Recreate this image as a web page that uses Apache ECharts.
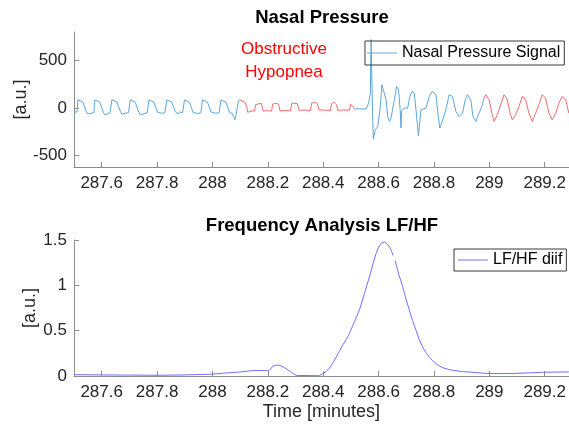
<!DOCTYPE html>
<html>
<head>
<meta charset="utf-8">
<script src="https://cdn.jsdelivr.net/npm/echarts@6/dist/echarts.min.js"></script>
<style>
  html, body { margin: 0; padding: 0; background: #fff; }
  #chart { width: 569px; height: 430px; }
</style>
</head>
<body>
<div id="chart"></div>
<script>
// tick positions
const timeTicks = [287.6, 287.8, 288, 288.2, 288.4, 288.6, 288.8, 289, 289.2];
const pressureTicks = [-500, 0, 500];
const ratioTicks = [0, 0.5, 1, 1.5];

// nasal pressure signal, [minutes, a.u.]
const nasalBlueA = [
  [287.500, -45], [287.511, -40], [287.514, 87], [287.521, 78], [287.532, 65], [287.539, 45], [287.545, -40], [287.550, -62], [287.561, -58], [287.568, -50],
  [287.572, -45], [287.575, 85], [287.582, 78], [287.593, 62], [287.600, 42], [287.606, -45], [287.611, -70], [287.622, -62], [287.630, -50],
  [287.634, -45], [287.637, 88], [287.644, 80], [287.655, 63], [287.662, 45], [287.668, -40], [287.673, -65], [287.684, -55], [287.690, -60], [287.697, -48],
  [287.700, -45], [287.703, 86], [287.710, 78], [287.721, 62], [287.728, 44], [287.734, -42], [287.739, -70], [287.750, -62], [287.764, -50],
  [287.768, -45], [287.771, 85], [287.778, 76], [287.789, 60], [287.796, 42], [287.802, -45], [287.807, -58], [287.818, -55], [287.828, -48],
  [287.832, -42], [287.835, 86], [287.842, 78], [287.853, 62], [287.860, 44], [287.866, -40], [287.871, -45], [287.876, -62], [287.882, -40], [287.892, -50],
  [287.896, -45], [287.899, 85], [287.906, 76], [287.917, 60], [287.924, 40], [287.930, -45], [287.935, -65], [287.946, -58], [287.958, -48],
  [287.961, -45], [287.964, 87], [287.971, 78], [287.982, 62], [287.989, 44], [287.995, -42], [288.000, -62], [288.011, -55], [288.024, -48],
  [288.028, -45], [288.031, 85], [288.038, 76], [288.049, 60], [288.056, 40], [288.062, -45], [288.070, -55], [288.076, -90], [288.081, -124],
  [288.086, -60], [288.094, 77], [288.099, 87]
];
const nasalRedB = [
  [288.099, 87], [288.105, 72], [288.118, 58], [288.124, 10], [288.127, -45], [288.141, -30], [288.152, -32],
  [288.156, 35], [288.167, 45], [288.177, 48], [288.183, -30], [288.199, -28], [288.214, -32],
  [288.217, 40], [288.228, 50], [288.239, 42], [288.244, -30], [288.264, -25], [288.282, -30],
  [288.286, 45], [288.296, 52], [288.307, 45], [288.313, -25], [288.332, -20], [288.354, -28],
  [288.358, 50], [288.368, 62], [288.379, 45], [288.385, -20], [288.405, -22], [288.426, -25],
  [288.430, 45], [288.439, 62], [288.448, 35], [288.453, -25], [288.473, -20], [288.495, -22],
  [288.499, 40], [288.504, 59], [288.509, 10], [288.513, -10]
];
const nasalBlueC = [
  [288.513, -10], [288.530, -8], [288.555, -10], [288.564, 52], [288.570, 150], [288.573, 720], [288.577, 100], [288.581, -326],
  [288.588, -228], [288.597, -194], [288.605, -18], [288.612, 245], [288.618, 263], [288.627, 87], [288.633, -88], [288.639, -141],
  [288.645, -105], [288.657, 87], [288.665, 228], [288.672, 193], [288.678, -18], [288.681, -210], [288.683, -35], [288.693, 0],
  [288.705, 0], [288.713, 122], [288.721, 175], [288.729, 158], [288.735, -18], [288.744, -291], [288.753, -18], [288.771, 0],
  [288.783, 122], [288.793, 175], [288.807, 140], [288.816, -100], [288.821, -210], [288.831, -130], [288.843, -18], [288.855, 140],
  [288.867, 122], [288.879, -35], [288.891, -88], [288.903, -53], [288.913, 87], [288.921, 140], [288.933, 87], [288.941, -88],
  [288.951, -141], [288.963, -53], [288.973, 17], [288.981, 105]
];
const nasalRedD = [
  [288.981, 105], [288.987, 140], [288.999, 87], [289.009, -53], [289.017, -141], [289.029, -70], [289.041, 35],
  [289.053, 140], [289.065, 87], [289.075, -53], [289.083, -123], [289.095, -70], [289.107, 17],
  [289.119, 122], [289.131, 87], [289.143, -53], [289.155, -141], [289.167, -53], [289.179, 35],
  [289.191, 140], [289.203, 105], [289.215, -53], [289.227, -123], [289.240, -53], [289.251, 52],
  [289.263, 122], [289.276, 87], [289.287, -53]
];

// LF/HF difference, [minutes, a.u.]
const lfhfRise = [
  [287.500, 0.015], [287.600, 0.012], [287.700, 0.010], [287.810, 0.008], [287.900, 0.012], [287.990, 0.019],
  [288.050, 0.033], [288.098, 0.044], [288.146, 0.060], [288.194, 0.060], [288.206, 0.065], [288.218, 0.107],
  [288.228, 0.118], [288.238, 0.120], [288.248, 0.112], [288.257, 0.098], [288.266, 0.082], [288.285, 0.040],
  [288.303, 0.006], [288.386, 0.003], [288.398, 0.026], [288.410, 0.048], [288.422, 0.085], [288.434, 0.14],
  [288.447, 0.21], [288.458, 0.27], [288.470, 0.34], [288.483, 0.40], [288.495, 0.47], [288.513, 0.60],
  [288.531, 0.73], [288.549, 0.91], [288.567, 1.094], [288.580, 1.24], [288.591, 1.353], [288.600, 1.42],
  [288.609, 1.463], [288.615, 1.476], [288.621, 1.478], [288.630, 1.46], [288.639, 1.426], [288.646, 1.385],
  [288.652, 1.33]
];
const lfhfFall = [
  [288.660, 1.27], [288.673, 1.12], [288.687, 0.984], [288.699, 0.85], [288.711, 0.726], [288.723, 0.61],
  [288.735, 0.505], [288.747, 0.40], [288.759, 0.32], [288.771, 0.26], [288.783, 0.21], [288.795, 0.17],
  [288.807, 0.137], [288.819, 0.112], [288.831, 0.093], [288.849, 0.075], [288.867, 0.063], [288.903, 0.049],
  [288.951, 0.038], [288.999, 0.027], [289.071, 0.027], [289.131, 0.033], [289.191, 0.041], [289.287, 0.045]
];

const FONT = '"Liberation Sans", Arial, sans-serif';
const AXIS_GREY = '#8c8c8c';
const TEXT_GREY = '#262626';
const BLUE = '#5aa7dc';
const RED = '#ef6b6b';
const PURPLE = '#7070ff';

const fmt = v => String(Math.round(v * 10) / 10);

function xAxisFor(idx, withName) {
  return {
    type: 'value', gridIndex: idx, min: 287.5, max: 289.287,
    splitLine: { show: false },
    axisLine: { onZero: false, lineStyle: { color: AXIS_GREY, width: 1 } },
    axisTick: { inside: true, length: 5, customValues: timeTicks, lineStyle: { color: AXIS_GREY } },
    axisLabel: { customValues: timeTicks, formatter: fmt, margin: 8, color: TEXT_GREY, fontSize: 17, fontFamily: FONT },
    name: withName ? 'Time [minutes]' : '', nameLocation: 'middle', nameGap: 27, nameMoveOverlap: false,
    nameTextStyle: { color: TEXT_GREY, fontSize: 18, fontFamily: FONT }
  };
}

function yAxisFor(idx, min, max, ticks, gap) {
  return {
    type: 'value', gridIndex: idx, min: min, max: max,
    splitLine: { show: false },
    axisLine: { show: true, onZero: false, lineStyle: { color: AXIS_GREY, width: 1 } },
    axisTick: { show: true, inside: true, length: 5, customValues: ticks, lineStyle: { color: AXIS_GREY } },
    axisLabel: { customValues: ticks, formatter: fmt, margin: 7, color: TEXT_GREY, fontSize: 17, fontFamily: FONT },
    name: '[a.u.]', nameLocation: 'middle', nameRotate: 90, nameGap: gap, nameMoveOverlap: false,
    nameTextStyle: { color: TEXT_GREY, fontSize: 18, fontFamily: FONT }
  };
}

function line(name, data, color, xi) {
  return {
    type: 'line', name: name, data: data, xAxisIndex: xi, yAxisIndex: xi,
    symbol: 'none', showSymbol: false, color: color,
    lineStyle: { color: color, width: 1 }, emphasis: { disabled: true }
  };
}

const chart = echarts.init(document.getElementById('chart'), null, { renderer: 'canvas' });
chart.setOption({
  animation: false,
  backgroundColor: '#fff',
  grid: [
    { left: 74, top: 32, width: 496, height: 135 },
    { left: 74, top: 240, width: 496, height: 136 }
  ],
  xAxis: [xAxisFor(0, false), xAxisFor(1, true)],
  yAxis: [yAxisFor(0, -620, 800, pressureTicks, 44), yAxisFor(1, 0, 1.5, ratioTicks, 35)],
  legend: [
    {
      data: ['Nasal Pressure Signal'], left: 365, top: 41,
      icon: 'rect', itemWidth: 30, itemHeight: 1,
      padding: [3, 4, 3, 2], borderColor: '#3a3a3a', borderWidth: 1, borderRadius: 0,
      textStyle: { color: '#000', fontSize: 16, fontFamily: FONT, lineHeight: 18 },
      selectedMode: false
    },
    {
      data: ['LF/HF diif'], left: 454, top: 249,
      icon: 'rect', itemWidth: 30, itemHeight: 1,
      padding: [2, 4, 2, 4], borderColor: '#3a3a3a', borderWidth: 1, borderRadius: 0,
      backgroundColor: '#fff',
      textStyle: { color: '#000', fontSize: 16, fontFamily: FONT, lineHeight: 18 },
      selectedMode: false
    }
  ],
  graphic: [
    { type: 'text', x: 322, y: 18, style: { text: 'Nasal Pressure', font: 'bold 18.5px ' + FONT, fill: '#000', align: 'center', verticalAlign: 'middle' } },
    { type: 'text', x: 322, y: 226, style: { text: 'Frequency Analysis LF/HF', font: 'bold 18.5px ' + FONT, fill: '#000', align: 'center', verticalAlign: 'middle' } },
    { type: 'text', x: 284, y: 61, style: { text: 'Obstructive\nHypopnea', font: '17px ' + FONT, lineHeight: 23, fill: '#ff0000', align: 'center', verticalAlign: 'middle' } }
  ],
  series: [
    line('Nasal Pressure Signal', nasalBlueA, BLUE, 0),
    line('hypopnea', nasalRedB, RED, 0),
    line('Nasal Pressure Signal', nasalBlueC, BLUE, 0),
    line('hypopnea', nasalRedD, RED, 0),
    line('LF/HF diif', lfhfRise, PURPLE, 1),
    line('LF/HF diif', lfhfFall, PURPLE, 1)
  ]
});
</script>
</body>
</html>
